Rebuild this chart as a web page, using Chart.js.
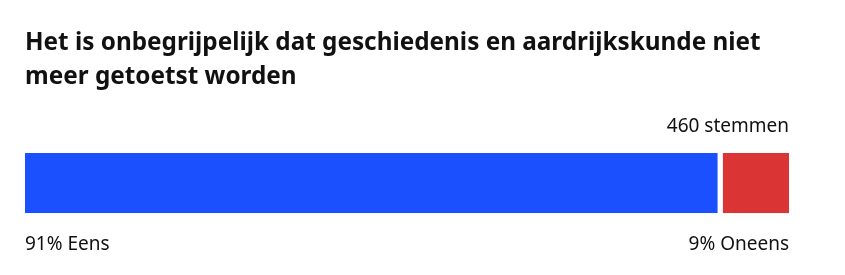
<!DOCTYPE html>
<html>
<head>
<meta charset="utf-8">
<script src="https://cdn.jsdelivr.net/npm/chart.js@4"></script>
<style>
  html, body { margin: 0; padding: 0; background: #fff; }
</style>
</head>
<body>
<canvas id="pollChart" width="845" height="275"></canvas>
<script>
const titleLines = [
  "Het is onbegrijpelijk dat geschiedenis en aardrijkskunde niet",
  "meer getoetst worden"
];
const categories = ["Eens", "Oneens"];
const percentages = [91, 9];
const totalVotes = 460;
const barColors = ["#1a50ff", "#da3434"];

const FONT = "'Noto Sans', sans-serif";

// Build one stacked dataset per answer
const datasets = categories.map((cat, i) => ({
  label: cat,
  data: [percentages[i]],
  backgroundColor: barColors[i],
  borderColor: "#fff",
  borderWidth: i === 0 ? { right: 3 } : { left: 3 },
  borderSkipped: false,
  barPercentage: 1,
  categoryPercentage: 1
}));

new Chart(document.getElementById("pollChart").getContext("2d"), {
  type: "bar",
  data: { labels: [""], datasets: datasets },
  options: {
    indexAxis: "y",
    responsive: false,
    animation: false,
    layout: { padding: { left: 25, right: 56, top: 0, bottom: 7 } },
    plugins: {
      legend: { display: false },
      tooltip: { enabled: false },
      title: {
        display: true,
        text: titleLines,
        align: "start",
        color: "#111",
        font: { family: FONT, size: 24.3, weight: "bold", lineHeight: 1.36 },
        padding: { top: 27, bottom: 22 }
      },
      subtitle: {
        display: true,
        text: totalVotes + " stemmen",
        align: "end",
        color: "#111",
        font: { family: FONT, size: 19, lineHeight: 1.2 },
        padding: { top: 0, bottom: 15 }
      }
    },
    scales: {
      x: {
        stacked: true,
        min: 0,
        max: 100,
        grid: { display: false },
        border: { display: false },
        afterBuildTicks: scale => {
          scale.ticks = [{ value: 0 }, { value: 100 }];
        },
        ticks: {
          align: "inner",
          maxRotation: 0,
          autoSkip: false,
          padding: 12,
          color: "#111",
          font: { family: FONT, size: 19 },
          callback: (val, idx) => percentages[idx] + "% " + categories[idx]
        }
      },
      y: { stacked: true, display: false }
    }
  }
});
</script>
</body>
</html>
